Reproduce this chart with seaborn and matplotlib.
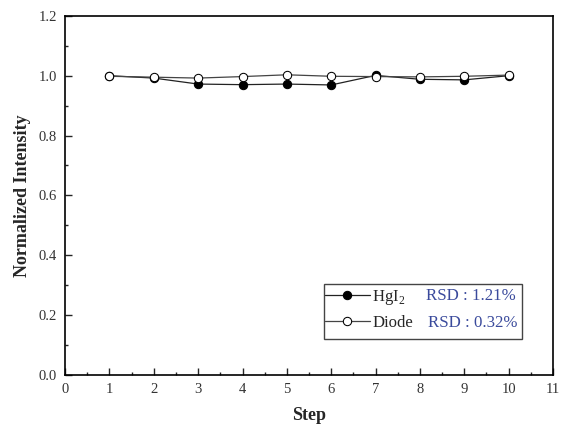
import pandas as pd
import matplotlib.pyplot as plt
import seaborn as sns
from matplotlib.patches import Rectangle
from matplotlib.ticker import MultipleLocator

steps = [1, 2, 3, 4, 5, 6, 7, 8, 9, 10]
hgi2 = [1.000, 0.992, 0.972, 0.970, 0.972, 0.969, 1.001, 0.988, 0.986, 1.000]
diode = [0.998, 0.995, 0.992, 0.997, 1.003, 0.998, 0.997, 0.996, 0.998, 1.002]
rsd_labels = ['RSD : 1.21%', 'RSD : 0.32%']

df = pd.DataFrame({'step': steps * 2,
                   'value': hgi2 + diode,
                   'series': ['HgI2'] * len(steps) + ['Diode'] * len(steps)})

sns.set_style('ticks')
plt.rcParams['font.family'] = ['Liberation Serif', 'DejaVu Serif']
plt.rcParams['mathtext.fontset'] = 'custom'
plt.rcParams['mathtext.rm'] = 'Liberation Serif'

fig = plt.figure(figsize=(5.66, 4.28), dpi=100)
ax = fig.add_axes([0.115, 0.124, 0.862, 0.839])

sns.lineplot(data=df[df['series'] == 'HgI2'], x='step', y='value', ax=ax,
             color='#222222', lw=0.9, marker='o', markersize=6,
             markerfacecolor='black', markeredgecolor='black', label='HgI$_2$')
sns.lineplot(data=df[df['series'] == 'Diode'], x='step', y='value', ax=ax,
             color='#444444', lw=0.9, marker='o', markersize=6,
             markerfacecolor='white', markeredgecolor='black', label='Diode')

ax.set_xlim(0, 11)
ax.set_ylim(0, 1.2)
ax.xaxis.set_major_locator(MultipleLocator(1))
ax.xaxis.set_minor_locator(MultipleLocator(0.5))
ax.yaxis.set_major_locator(MultipleLocator(0.2))
ax.yaxis.set_minor_locator(MultipleLocator(0.1))
ax.yaxis.set_major_formatter(plt.FormatStrFormatter('%.1f'))
ax.tick_params(which='major', direction='in', length=5, width=1, labelsize=10.5,
               labelcolor='#333333', pad=6)
ax.tick_params(which='minor', direction='in', length=2.5, width=1)
for s in ax.spines.values():
    s.set_linewidth(1.2)
    s.set_color('black')

ax.set_xlabel('Step', fontsize=13, fontweight='bold', labelpad=8)
ax.set_ylabel('Normalized Intensity', fontsize=13, fontweight='bold', labelpad=5)

leg = ax.legend(loc='center left', bbox_to_anchor=(0.519, 0.182), frameon=False,
                fontsize=12, handlelength=2.7, handletextpad=0.15,
                labelspacing=0.45, borderaxespad=0)
ax.add_patch(Rectangle((0.531, 0.100), 0.405, 0.153, transform=ax.transAxes,
                       fill=False, edgecolor='#444444', lw=1, zorder=5))
ax.text(0.740, 0.220, rsd_labels[0], transform=ax.transAxes, fontsize=12.2,
        color='#3a4a9c', va='center')
ax.text(0.744, 0.145, rsd_labels[1], transform=ax.transAxes, fontsize=12.2,
        color='#3a4a9c', va='center')

fig.savefig('out.png', dpi=100)
